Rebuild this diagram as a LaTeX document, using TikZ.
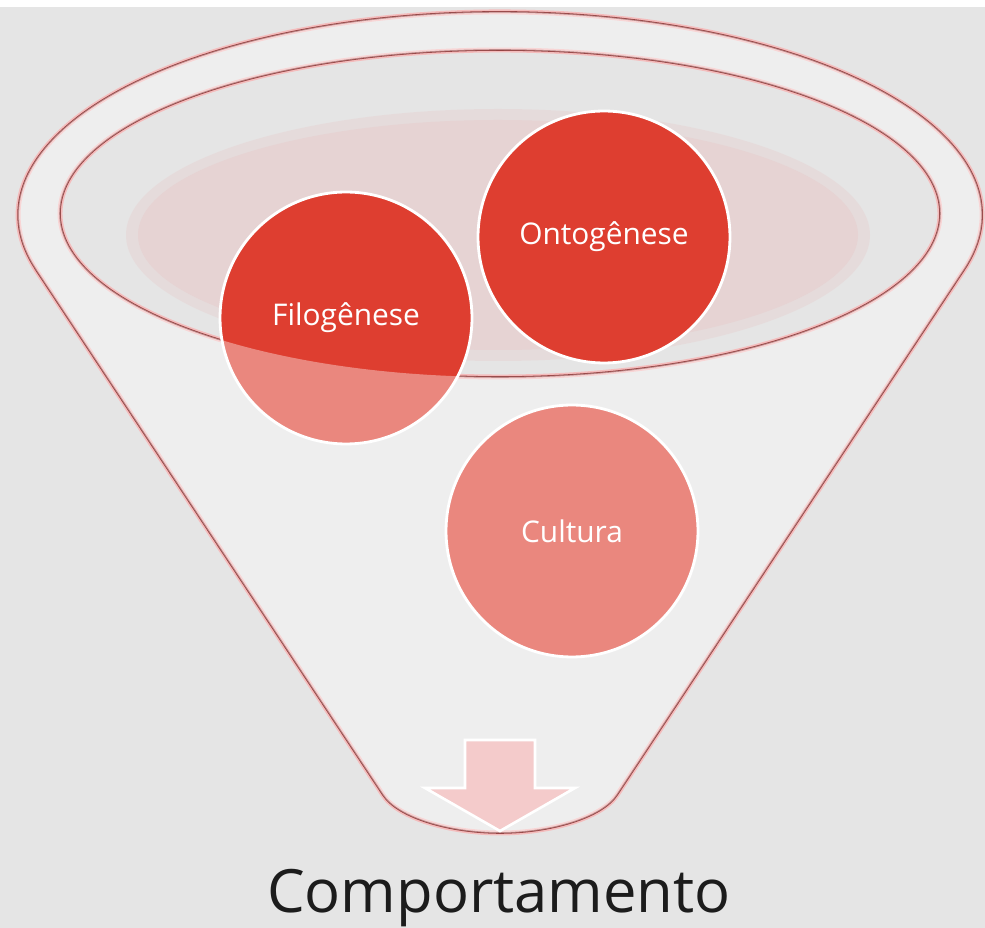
\documentclass[tikz,border=0pt]{standalone}
\usepackage{fontspec}
\setmainfont{Open Sans}
\usepackage{tikz}
\usetikzlibrary{positioning}
\definecolor{BackGrey}{RGB}{229,229,229}
\definecolor{FunnelRed}{RGB}{222,62,48}
\definecolor{RimRed}{RGB}{150,68,68}
\definecolor{RimGlow}{RGB}{244,188,188}
\definecolor{MouthPink}{RGB}{230,211,211}
\definecolor{ArrowPink}{RGB}{244,203,203}
\definecolor{TextBlack}{RGB}{28,28,28}
\tikzset{
  rim/.style={draw=RimRed, line width=0.9pt, preaction={draw=RimGlow, line width=2.8pt}},
  ball/.style={circle, draw=white, line width=1.6pt, fill=FunnelRed, minimum size=5.04cm,
    inner sep=0pt, text=white, font=\fontsize{17}{20}\selectfont},
  wall/.style={fill=white, fill opacity=0.38, even odd rule},
  downarrow/.style={draw=white, line width=1.5pt, fill=ArrowPink, line join=miter},
  behav/.style={font=\fontsize{34}{40}\selectfont, text=TextBlack, anchor=base, inner sep=0pt},
}
\def\funnel{(lipL) -- (tipL) .. controls (398,-818) and (450,-833) .. (bot)
  .. controls (550,-833) and (602,-818) .. (tipR) -- (lipR)
  arc[start angle=-15.5, end angle=195.5, x radius=482, y radius=203] -- cycle}
\def\mouth{(500,-213.5) ellipse[x radius=440, y radius=163.5]}

\begin{document}
\begin{tikzpicture}[x=0.02cm, y=0.02cm]
  \useasboundingbox (0,0) rectangle (985,-928);
  \fill[BackGrey] (0,0) rectangle (985,-928);
  \fill[white] (0,0) rectangle (985,-7);
  \coordinate (lipL) at (35.5,-269.2);
  \coordinate (lipR) at (964.5,-269.2);
  \coordinate (tipL) at (383,-795);
  \coordinate (tipR) at (617,-795);
  \coordinate (bot) at (500,-833);
  % pale inside of the mouth, soft edge
  \fill[MouthPink, opacity=0.5] (498,-235) ellipse[x radius=372, y radius=126];
  \fill[MouthPink] (498,-235) ellipse[x radius=360, y radius=115];
  \draw[rim] \funnel;
  \draw[rim] \mouth;
  \node[ball] (onto) at (604,-237) {Ontogênese};
  \node[ball] (filo) at (346,-318) {Filogênese};
  \node[ball] (cult) at (572,-531) {Cultura};
  % front wall of the funnel
  \fill[wall] \funnel \mouth;
  \draw[downarrow] (465,-740) -- (535,-740) -- (535,-788) -- (575,-788) -- (500,-831)
    -- (425,-788) -- (465,-788) -- cycle;
  \node[behav] (comp) at (499,-913) {Comportamento};
\end{tikzpicture}
\end{document}
